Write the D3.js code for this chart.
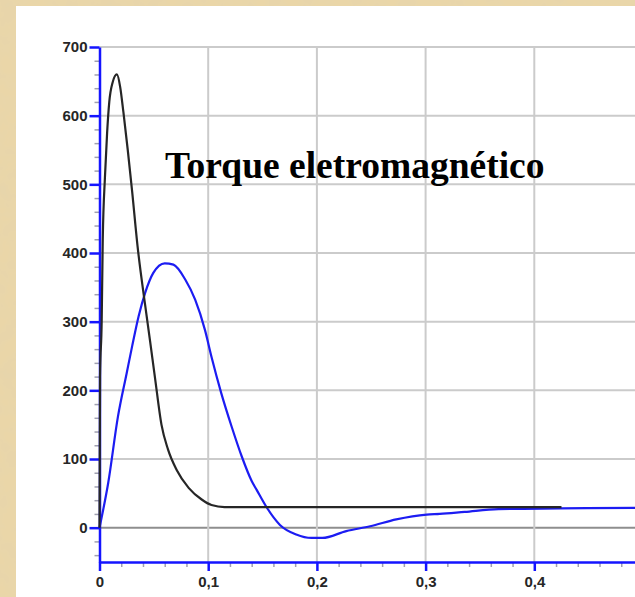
<!DOCTYPE html>
<html>
<head>
<meta charset="utf-8">
<script src="https://cdn.jsdelivr.net/npm/d3@7"></script>
<style>
html,body{margin:0;padding:0;background:#e6d0a0;}
svg{display:block;}
</style>
</head>
<body>
<svg id="chart" width="635" height="597"></svg>
<script>
// ---- data ----
const chartTitle = "Torque eletromagnético";
const yMajorTicks = [0, 100, 200, 300, 400, 500, 600, 700];
const xMajorTicks = [0, 0.1, 0.2, 0.3, 0.4];
const xTickLabels = ["0", "0,1", "0,2", "0,3", "0,4"];

// black series (electromagnetic torque)
const timeBlack   = [0, 0.0005, 0.002, 0.003, 0.005, 0.007, 0.009, 0.012, 0.016, 0.019, 0.022, 0.026, 0.030, 0.035, 0.042, 0.0465, 0.051, 0.057, 0.063, 0.071, 0.082, 0.094, 0.103, 0.115, 0.2, 0.3, 0.425];
const torqueBlack = [0, 220, 300, 420, 510, 575, 620, 648, 660, 642, 605, 550, 490, 410, 324, 272, 219, 150, 114, 84, 58, 41, 33, 30, 30, 30, 30];

// blue series
const timeBlue   = [0, 0.008, 0.017, 0.025, 0.030, 0.036, 0.042, 0.0495, 0.060, 0.068, 0.079, 0.088, 0.097, 0.103, 0.112, 0.1216, 0.1308, 0.140, 0.1446, 0.154, 0.166, 0.181, 0.195, 0.205, 0.227, 0.249, 0.273, 0.301, 0.313, 0.336, 0.367, 0.424, 0.5];
const torqueBlue = [0, 65, 162, 225, 264, 308, 342, 371, 385, 383, 361, 332, 288, 249, 196, 147, 104, 68, 55, 29, 4, -10, -15, -15, -5, 2, 12, 19, 20, 23, 27, 28, 29];

// ---- layout ----
const svg = d3.select("#chart");
const W = 635, H = 597;

// parchment texture
const defs = svg.append("defs");
const f = defs.append("filter").attr("id", "paper").attr("x", 0).attr("y", 0).attr("width", "100%").attr("height", "100%");
f.append("feTurbulence").attr("type", "fractalNoise").attr("baseFrequency", 0.06).attr("numOctaves", 3).attr("seed", 4).attr("result", "n");
f.append("feColorMatrix").attr("in", "n").attr("type", "matrix")
  .attr("values", "0 0 0 0 0.78  0 0 0 0 0.66  0 0 0 0 0.42  0 0 0 -1.1 0.75").attr("result", "c");
f.append("feComposite").attr("in", "c").attr("in2", "SourceGraphic").attr("operator", "over");
svg.append("rect").attr("width", W).attr("height", H).attr("fill", "#ead6a8").attr("filter", "url(#paper)");

svg.append("rect").attr("x", 16).attr("y", 6).attr("width", W - 16).attr("height", H - 6).attr("fill", "#ffffff");

const x = d3.scaleLinear().domain([0, 0.5]).range([99.5, 643]);
const y = d3.scaleLinear().domain([-50, 700]).range([562, 47]);

// grid
const g = svg.append("g");
g.selectAll("line.hg").data(yMajorTicks).enter().append("line")
  .attr("x1", x(0)).attr("x2", W)
  .attr("y1", d => y(d)).attr("y2", d => y(d))
  .attr("stroke", d => d === 0 ? "#8e8e8e" : "#cbcbcb")
  .attr("stroke-width", 2);
g.selectAll("line.vg").data(xMajorTicks.filter(d => d > 0)).enter().append("line")
  .attr("x1", d => x(d)).attr("x2", d => x(d))
  .attr("y1", y(700)).attr("y2", y(-50))
  .attr("stroke", "#cbcbcb").attr("stroke-width", 2);

// minor ticks
const yMinor = d3.range(-40, 700, 20).filter(d => d % 100 !== 0);
const xMinor = d3.range(0.02, 0.5, 0.02).filter(d => Math.abs(d * 10 - Math.round(d * 10)) > 1e-6);
svg.append("g").attr("transform", `translate(${x(0)},0)`)
  .call(d3.axisLeft(y).tickValues(yMinor).tickSize(5).tickFormat(""))
  .call(a => a.select(".domain").remove())
  .call(a => a.selectAll("line").attr("stroke", "#a0a0b0").attr("stroke-width", 1.5));
svg.append("g").attr("transform", `translate(0,${y(-50)})`)
  .call(d3.axisBottom(x).tickValues(xMinor).tickSize(5).tickFormat(""))
  .call(a => a.select(".domain").remove())
  .call(a => a.selectAll("line").attr("stroke", "#a0a0b0").attr("stroke-width", 1.5));

// axes
const yAxis = svg.append("g").attr("transform", `translate(${x(0)},0)`)
  .call(d3.axisLeft(y).tickValues(yMajorTicks).tickSize(10).tickSizeOuter(0).tickPadding(2).tickFormat(d3.format("d")));
const xAxis = svg.append("g").attr("transform", `translate(0,${y(-50)})`)
  .call(d3.axisBottom(x).tickValues(xMajorTicks).tickSize(9).tickSizeOuter(0).tickPadding(5)
    .tickFormat((d, i) => xTickLabels[i]));
[yAxis, xAxis].forEach(a => {
  a.select(".domain").attr("stroke", "#1414ff").attr("stroke-width", 2.5);
  a.selectAll(".tick line").attr("stroke", "#1414ff").attr("stroke-width", 2.5);
  a.selectAll("text").attr("fill", "#262626")
    .style("font-family", "'Liberation Sans', Arial, sans-serif")
    .style("font-size", "15px").style("font-weight", "bold");
});

// curves
const line = d3.line().x(d => x(d[0])).y(d => y(d[1])).curve(d3.curveMonotoneX);
svg.append("path").datum(d3.zip(timeBlue, torqueBlue))
  .attr("d", line).attr("fill", "none").attr("stroke", "#1c1cf2").attr("stroke-width", 2.2);
svg.append("path").datum(d3.zip(timeBlack, torqueBlack))
  .attr("d", line).attr("fill", "none").attr("stroke", "#262626").attr("stroke-width", 2.2);

// title
svg.append("text").attr("x", 165).attr("y", 178)
  .attr("fill", "#000")
  .style("font-family", "'Liberation Serif', 'Times New Roman', serif")
  .style("font-size", "37.5px").style("font-weight", "bold")
  .text(chartTitle);
</script>
</body>
</html>
